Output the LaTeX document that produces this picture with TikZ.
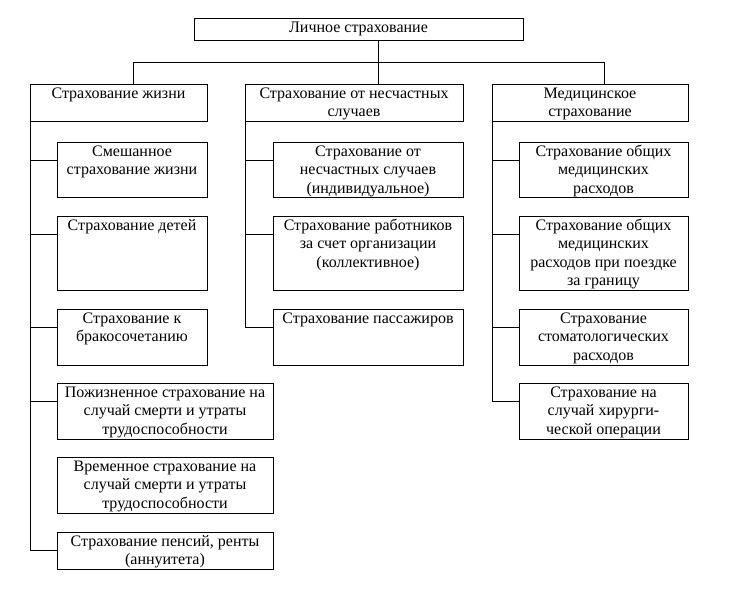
\documentclass[tikz,border=0pt]{standalone}
\usepackage{fontspec}
\setmainfont{Liberation Serif}
\usetikzlibrary{calc}
\newcommand{\bxt}[3]{\parbox[c][#2pt][t]{#1pt}{\centering\rule{0pt}{14.5pt}#3}}
\tikzset{
  bx/.style={draw, line width=0.9pt, inner sep=0pt, outer sep=0pt, anchor=north west,
    font=\fontsize{16}{18.4}\selectfont},
  conn/.style={line width=0.9pt}
}
\begin{document}
\begin{tikzpicture}[x=1pt,y=-1pt]
\useasboundingbox (0,0) rectangle (750,593);
% top
\node[bx] (top) at (194,18) {\bxt{329}{22}{Личное страхование}};
% level 1
\node[bx] (life) at (30,84) {\bxt{177}{37}{Страхование жизни}};
\node[bx] (acc) at (245,84) {\bxt{218}{37}{Страхование от несчастных\\случаев}};
\node[bx] (med) at (492,84) {\bxt{196}{37}{Медицинское\\страхование}};
% bus
\coordinate (busL) at (133,62);
\coordinate (busM) at (378,62);
\coordinate (busR) at (604,62);
\draw[conn] (top.south -| busM) -- (busM |- acc.north);
\draw[conn] (busL |- life.north) -- (busL) -- (busR) -- (busR |- med.north);
% left column
\node[bx] (mix) at (57,142) {\bxt{150}{55}{Смешанное\\страхование жизни}};
\node[bx] (kids) at (57,216) {\bxt{150}{74}{Страхование детей}};
\node[bx] (wed) at (57,309) {\bxt{150}{56}{Страхование к\\бракосочетанию}};
\node[bx] (whole) at (57,383) {\bxt{216}{56}{Пожизненное страхование на\\случай смерти и утраты\\трудоспособности}};
\node[bx] (term) at (57,457) {\bxt{216}{56}{Временное страхование на\\случай смерти и утраты\\трудоспособности}};
\node[bx] (pens) at (57,532) {\bxt{216}{37}{Страхование пенсий, ренты\\(аннуитета)}};
% middle column
\node[bx] (ind) at (273,142) {\bxt{190}{55}{Страхование от\\несчастных случаев\\(индивидуальное)}};
\node[bx] (coll) at (273,216) {\bxt{190}{74}{Страхование работников\\за счет организации\\(коллективное)}};
\node[bx] (pass) at (273,309) {\bxt{190}{56}{Страхование пассажиров}};
% right column
\node[bx] (gen) at (519,142) {\bxt{169}{55}{Страхование общих\\медицинских\\расходов}};
\node[bx] (abr) at (519,216) {\bxt{169}{74}{Страхование общих\\медицинских\\расходов при поездке\\за границу}};
\node[bx] (dent) at (519,309) {\bxt{169}{56}{Страхование\\стоматологических\\расходов}};
\node[bx] (surg) at (519,383) {\bxt{169}{56}{Страхование на\\случай хирурги-\\ческой операции}};
% connector points
\foreach \n in {mix,kids,wed,whole,pens,ind,coll,pass,gen,abr,dent,surg}
  \coordinate (\n c) at ($(\n.north west)+(0,18.5)$);
% left
\draw[conn] (life.south west) -- (life.south west |- pensc) -- (pensc);
\foreach \n in {mix,kids,wed,whole}
  \draw[conn] (life.south west |- \n c) -- (\n c);
% middle
\draw[conn] (acc.south west) -- (acc.south west |- passc) -- (passc);
\foreach \n in {ind,coll}
  \draw[conn] (acc.south west |- \n c) -- (\n c);
% right
\draw[conn] (med.south west) -- (med.south west |- surgc) -- (surgc);
\foreach \n in {gen,abr,dent}
  \draw[conn] (med.south west |- \n c) -- (\n c);
\end{tikzpicture}
\end{document}
